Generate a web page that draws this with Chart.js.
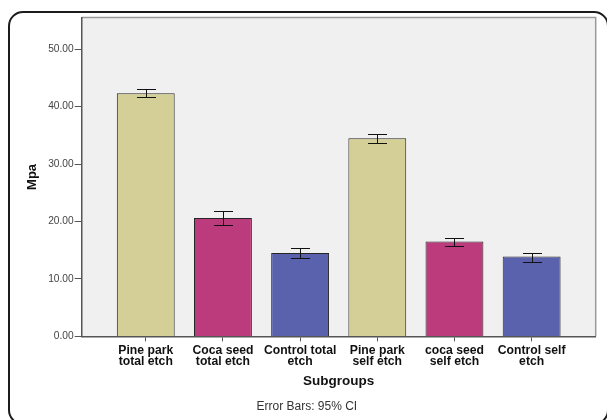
<!DOCTYPE html>
<html>
<head>
<meta charset="utf-8">
<script src="https://cdn.jsdelivr.net/npm/chart.js@4/dist/chart.umd.min.js"></script>
<style>
  html, body { margin: 0; padding: 0; background: #fff; }
  #wrap { width: 607px; height: 420px; }
</style>
</head>
<body>
<div id="wrap"><canvas id="c" width="607" height="420"></canvas></div>
<script>
// Bond strength (Mpa) by subgroup, with 95% confidence intervals
const subgroups = [
  ['Pine park', 'total etch'],
  ['Coca seed', 'total etch'],
  ['Control total', 'etch'],
  ['Pine park', 'self etch'],
  ['coca seed', 'self etch'],
  ['Control self', 'etch']
];
const meanMpa = [42.3, 20.6, 14.5, 34.5, 16.5, 13.9];
const ciLower = [41.6, 19.4, 13.6, 33.7, 15.8, 13.0];
const ciUpper = [43.0, 21.9, 15.4, 35.2, 17.2, 14.6];
const yTickValues = [0, 10, 20, 30, 40, 50];

const barColors = ['#d3cf96', '#bc3b7c', '#5a62ae', '#d3cf96', '#bc3b7c', '#5a62ae'];

const points = meanMpa.map((v, i) => ({ x: i, y: v }));

// Outer rounded frame and grey plot background
const framePlugin = {
  id: 'frame',
  beforeDraw(chart) {
    const { ctx, chartArea: a } = chart;
    ctx.save();
    ctx.strokeStyle = '#1c1c1c';
    ctx.lineWidth = 2;
    ctx.beginPath();
    ctx.roundRect(9, 12, 599, 412, 14);
    ctx.stroke();
    ctx.fillStyle = '#f0f0f0';
    ctx.fillRect(a.left, a.top, a.right - a.left, a.bottom - a.top);
    ctx.strokeStyle = '#9a9a9a';
    ctx.lineWidth = 1.5;
    ctx.beginPath();
    ctx.moveTo(a.left, a.top);
    ctx.lineTo(a.right, a.top);
    ctx.lineTo(a.right, a.bottom);
    ctx.stroke();
    ctx.restore();
  }
};

// 95% CI whiskers with caps
const errorBarPlugin = {
  id: 'errorBars',
  afterDatasetsDraw(chart) {
    const { ctx, scales: { x, y } } = chart;
    const cap = 9.5;
    ctx.save();
    ctx.strokeStyle = '#111';
    ctx.lineWidth = 1;
    meanMpa.forEach((m, i) => {
      const px = Math.round(x.getPixelForValue(i)) + 0.5;
      const yl = Math.round(y.getPixelForValue(ciLower[i])) + 0.5;
      const yu = Math.round(y.getPixelForValue(ciUpper[i])) + 0.5;
      ctx.beginPath();
      ctx.moveTo(px, yl); ctx.lineTo(px, yu);
      ctx.moveTo(px - cap, yu); ctx.lineTo(px + cap, yu);
      ctx.moveTo(px - cap, yl); ctx.lineTo(px + cap, yl);
      ctx.stroke();
    });
    ctx.restore();
  }
};

new Chart(document.getElementById('c'), {
  type: 'bar',
  data: {
    datasets: [{
      data: points,
      backgroundColor: barColors,
      borderColor: '#262626',
      borderWidth: 1,
      categoryPercentage: 0.75,
      barPercentage: 1
    }]
  },
  options: {
    responsive: false,
    animation: false,
    events: [],
    layout: { padding: { left: 18, right: 11.3, top: 17.5, bottom: 0 } },
    plugins: {
      legend: { display: false },
      tooltip: { enabled: false },
      subtitle: {
        display: true,
        position: 'bottom',
        text: 'Error Bars: 95% CI',
        color: '#333',
        font: { family: "'Liberation Sans', Arial, sans-serif", size: 12, weight: 'normal' },
        padding: { top: 3.7, bottom: 6.1 }
      }
    },
    scales: {
      x: {
        type: 'linear',
        min: -0.83,
        max: 5.83,
        offset: false,
        afterBuildTicks(scale) { scale.ticks = subgroups.map((_, i) => ({ value: i })); },
        afterFit(scale) { scale.height = 59.4; },
        ticks: {
          autoSkip: false,
          maxRotation: 0,
          padding: 3.6,
          color: '#111',
          font: { family: "'Liberation Sans', Arial, sans-serif", size: 12.2, weight: 'bold', lineHeight: '11px' },
          callback: (v) => subgroups[v]
        },
        grid: { drawOnChartArea: false, drawTicks: true, tickLength: 5, color: '#555', offset: false },
        border: { color: '#555', width: 1.5 },
        title: {
          display: true,
          text: 'Subgroups',
          color: '#111',
          font: { family: "'Liberation Sans', Arial, sans-serif", size: 13.5, weight: 'bold' },
          padding: { top: 0, bottom: 6 }
        }
      },
      y: {
        min: 0,
        max: 55.5,
        afterBuildTicks(scale) { scale.ticks = yTickValues.map(v => ({ value: v })); },
        afterFit(scale) { scale.width = 63.7; },
        ticks: {
          padding: 1,
          color: '#444',
          font: { family: "'Liberation Sans', Arial, sans-serif", size: 10.2 },
          callback: (v) => Number(v).toFixed(2)
        },
        grid: { drawOnChartArea: false, drawTicks: true, tickLength: 7, color: '#555' },
        border: { color: '#555', width: 1.5 },
        title: {
          display: true,
          text: 'Mpa',
          color: '#111',
          font: { family: "'Liberation Sans', Arial, sans-serif", size: 13, weight: 'bold' },
          padding: { top: 6.5, bottom: 0 }
        }
      }
    }
  },
  plugins: [framePlugin, errorBarPlugin]
});
</script>
</body>
</html>
